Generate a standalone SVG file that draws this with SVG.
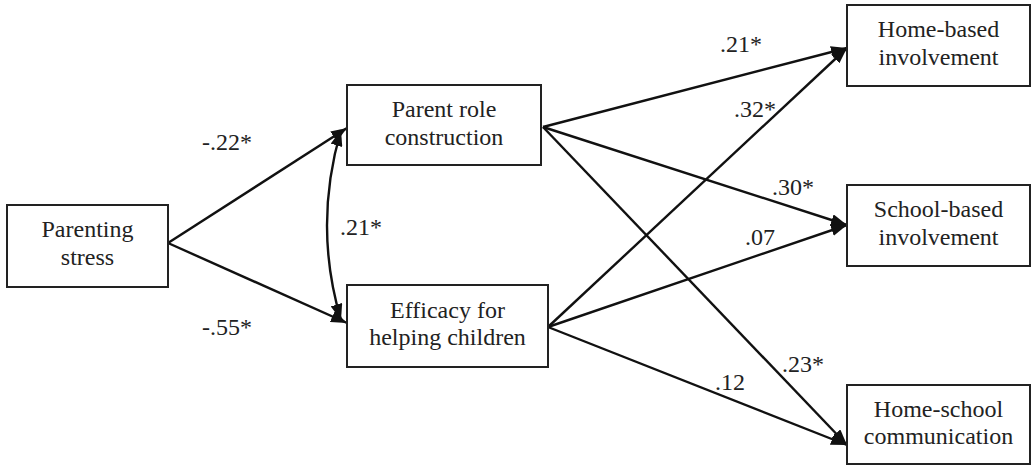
<svg xmlns="http://www.w3.org/2000/svg" width="1034" height="465" viewBox="0 0 1034 465" font-family="'Liberation Serif', 'DejaVu Serif', serif">
<style>
.box{fill:#fff;stroke:#222;stroke-width:2}
.t{font-family:'Liberation Serif','DejaVu Serif',serif;font-size:24px;fill:#222}
.c{text-anchor:middle}
.ln{fill:none;stroke:#111;stroke-width:2.4}
</style>
<defs>
<marker id="ah" viewBox="0 0 16 12" refX="16" refY="6" markerWidth="16" markerHeight="12" markerUnits="userSpaceOnUse" orient="auto-start-reverse">
<path d="M0,0 L16,6 L0,12 z" fill="#111"/>
</marker>
</defs>
<rect width="1034" height="465" fill="#fff"/>
<g id="connectors">
<line class="ln" x1="168" y1="243" x2="347" y2="128" marker-end="url(#ah)"/>
<line class="ln" x1="168" y1="243" x2="347" y2="323" marker-end="url(#ah)"/>
<path class="ln" d="M341,130 Q313,226 341,320" marker-start="url(#ah)" marker-end="url(#ah)"/>
<line class="ln" x1="543" y1="127" x2="847" y2="48" marker-end="url(#ah)"/>
<line class="ln" x1="543" y1="127" x2="847" y2="225" marker-end="url(#ah)"/>
<line class="ln" x1="543" y1="127" x2="847" y2="445" marker-end="url(#ah)"/>
<line class="ln" x1="548" y1="327" x2="847" y2="48" marker-end="url(#ah)"/>
<line class="ln" x1="548" y1="327" x2="847" y2="225" marker-end="url(#ah)"/>
<line class="ln" x1="548" y1="327" x2="847" y2="445" marker-end="url(#ah)"/>
<text class="t" x="202" y="150">-.22*</text>
<text class="t" x="202" y="335">-.55*</text>
<text class="t" x="340" y="235">.21*</text>
<text class="t" x="720" y="52">.21*</text>
<text class="t" x="734" y="117">.32*</text>
<text class="t" x="772" y="195">.30*</text>
<text class="t" x="745" y="245">.07</text>
<text class="t" x="782" y="372">.23*</text>
<text class="t" x="715" y="390">.12</text>
</g>
<g id="parenting-stress">
<rect class="box" x="7" y="205" width="161" height="82"/>
<text class="t c" x="87.5" y="237">Parenting</text>
<text class="t c" x="87.5" y="265">stress</text>
</g>
<g id="parent-role">
<rect class="box" x="347" y="85" width="194" height="80"/>
<text class="t c" x="444" y="117">Parent role</text>
<text class="t c" x="444" y="145">construction</text>
</g>
<g id="efficacy">
<rect class="box" x="347" y="285" width="201" height="82"/>
<text class="t c" x="447.5" y="318">Efficacy for</text>
<text class="t c" x="447.5" y="345">helping children</text>
</g>
<g id="home-based">
<rect class="box" x="847" y="5" width="183" height="81"/>
<text class="t c" x="938.5" y="37">Home-based</text>
<text class="t c" x="938.5" y="65">involvement</text>
</g>
<g id="school-based">
<rect class="box" x="847" y="185" width="183" height="81"/>
<text class="t c" x="938.5" y="217">School-based</text>
<text class="t c" x="938.5" y="245">involvement</text>
</g>
<g id="home-school">
<rect class="box" x="847" y="385" width="183" height="79"/>
<text class="t c" x="938.5" y="417">Home-school</text>
<text class="t c" x="938.5" y="444">communication</text>
</g>
</svg>
